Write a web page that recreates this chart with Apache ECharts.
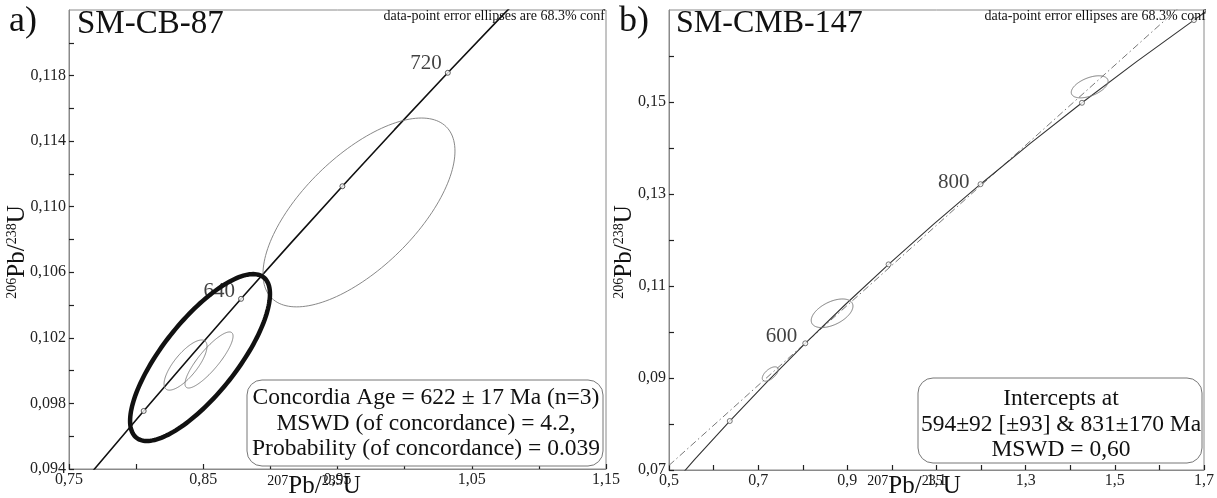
<!DOCTYPE html>
<html><head><meta charset="utf-8">
<script src="https://cdn.jsdelivr.net/npm/echarts@6/dist/echarts.min.js"></script>
<style>html,body{margin:0;padding:0;background:#fff}#c{width:1217px;height:498px}</style>
</head><body><div id="c"></div>
<script>
// ---------- Panel a) SM-CB-87 ----------
// concordia curve points: [age Ma, 207Pb/235U, 206Pb/238U]
const concordiaA = [[560,0.73589,0.09076],[580,0.77041,0.09414],[600,0.80563,0.09754],[620,0.84156,0.10096],[640,0.87817,0.10438],[660,0.91554,0.10781],[680,0.95365,0.11125],[700,0.99249,0.11470],[720,1.03215,0.11817],[740,1.07257,0.12164],[760,1.11381,0.12512]];
const markerAgesA = [600,640,680,720];
const labelAgesA = [640,720];
// error ellipses: [x, halfX, y, halfY, rho]
const ellipsesA = [[0.966,0.0715,0.10965,0.00576,0.65],[0.8368,0.0160,0.10034,0.00153,0.75],[0.8543,0.0179,0.10065,0.00171,0.85]];
const ageEllipseA = [[0.8476,0.0521,0.1008,0.00509,0.76]];

// ---------- Panel b) SM-CMB-147 ----------
const concordiaB = [[400,0.48281,0.06402],[450,0.55766,0.07230],[500,0.63627,0.08065],[550,0.71887,0.08906],[600,0.80563,0.09754],[650,0.89677,0.10609],[700,0.99249,0.11470],[750,1.09307,0.12338],[800,1.19873,0.13213],[850,1.30971,0.14094],[900,1.42629,0.14983],[950,1.54877,0.15878],[1000,1.67741,0.16781],[1050,1.81255,0.17690]];
const markerAgesB = [500,600,700,800,900,1000];
const labelAgesB = [600,800];
const discordiaB = [[0.5,0.0710],[1.7,0.1754]];
const ellipsesB = [[0.7271,0.0179,0.09087,0.00156,0.6],[0.8658,0.0468,0.10407,0.00311,0.5],[1.4436,0.0413,0.1533,0.0024,0.5]];

const FONT = '"Liberation Serif","Times New Roman",serif';

function comma(v, d){ return v.toFixed(d).replace('.', ','); }

function axisX(idx, min, max, step, dec){
  return {type:'value', gridIndex:idx, min:min, max:max, interval:step,
    axisLine:{show:true, lineStyle:{color:'#8a8a8a', width:1}},
    axisTick:{show:true, inside:true, length:5, lineStyle:{color:'#222', width:1.2}},
    splitLine:{show:false},
    axisLabel:{margin:3, color:'#222', fontFamily:FONT, fontSize:16, showMaxLabel:true,
      formatter:function(v){ const k=Math.round((v-min)/step); return k%2===0 ? comma(v,dec) : ''; }}};
}
function axisY(idx, min, max, step, dec){
  return {type:'value', gridIndex:idx, min:min, max:max, interval:step,
    axisLine:{show:true, lineStyle:{color:'#8a8a8a', width:1}},
    axisTick:{show:true, inside:true, length:5, lineStyle:{color:'#222', width:1.2}},
    splitLine:{show:false},
    axisLabel:{margin:3, color:'#222', fontFamily:FONT, fontSize:16, showMaxLabel:false,
      formatter:function(v){ const k=Math.round((v-min)/step); return k%2===0 ? comma(v,dec) : ''; }}};
}

function ellipseSeries(i, data, color, width, z){
  return {type:'custom', xAxisIndex:i, yAxisIndex:i, data:data, silent:true, z:z, clip:true,
    renderItem:function(params, api){
      const cx=api.value(0), hx=api.value(1), cy=api.value(2), hy=api.value(3), r=api.value(4);
      const s=Math.sqrt(1-r*r), pts=[];
      for(let k=0;k<=160;k++){ const t=k/160*2*Math.PI;
        pts.push(api.coord([cx+hx*Math.cos(t), cy+hy*(r*Math.cos(t)+s*Math.sin(t))])); }
      return {type:'polygon', shape:{points:pts}, style:{fill:'none', stroke:color, lineWidth:width}};
    }};
}
function markerData(curve, ages, labels, lab){
  return curve.filter(d=>ages.indexOf(d[0])>=0).map(d=>{
    const o={value:[d[1],d[2]]};
    if(labels.indexOf(d[0])>=0){ o.label=Object.assign({show:true, formatter:String(d[0])}, lab[d[0]]); }
    return o;
  });
}
const labStyle = {position:'left', color:'#111', fontFamily:FONT, fontSize:21};

const series = [
  {type:'line', xAxisIndex:0, yAxisIndex:0, data:concordiaA.map(d=>[d[1],d[2]]), showSymbol:false, silent:true,
    lineStyle:{color:'#111', width:1.6}, z:2},
  ellipseSeries(0, ellipsesA, '#7a7a7a', 0.9, 3),
  ellipseSeries(0, ageEllipseA, '#111', 4.5, 4),
  {type:'scatter', xAxisIndex:0, yAxisIndex:0, symbol:'circle', symbolSize:5, silent:true, z:5,
    itemStyle:{color:'#fff', borderColor:'#333', borderWidth:1},
    label:labStyle,
    data:markerData(concordiaA, markerAgesA, labelAgesA, {640:{distance:3, offset:[0,-7]}, 720:{distance:3, offset:[0,-9]}})},

  {type:'line', xAxisIndex:1, yAxisIndex:1, data:discordiaB, showSymbol:false, silent:true,
    lineStyle:{color:'#777', width:1, type:[7,3,1.5,3]}, z:2},
  {type:'line', xAxisIndex:1, yAxisIndex:1, data:concordiaB.map(d=>[d[1],d[2]]), showSymbol:false, silent:true,
    lineStyle:{color:'#333', width:1.1}, z:2},
  ellipseSeries(1, ellipsesB, '#7a7a7a', 1, 3),
  {type:'scatter', xAxisIndex:1, yAxisIndex:1, symbol:'circle', symbolSize:5, silent:true, z:5,
    itemStyle:{color:'#fff', borderColor:'#555', borderWidth:1},
    label:labStyle,
    data:markerData(concordiaB, markerAgesB, labelAgesB, {600:{distance:5, offset:[0,-7]}, 800:{distance:8, offset:[0,-2]}})}
];

function txt(x,y,text,size,align,extra){
  return Object.assign({type:'text', x:x, y:y, z:100, silent:true,
    style:{text:text, fill:'#111', fontFamily:FONT, fontSize:size, align:align||'left', verticalAlign:'middle'}}, extra||{});
}
const rich = {m:{fontFamily:FONT, fontSize:25, fill:'#111', lineHeight:28, verticalAlign:'bottom'},
              s:{fontFamily:FONT, fontSize:14, fill:'#111', lineHeight:20, verticalAlign:'top', padding:[3,0,0,0]}};
function axName(x,y,text,rot){
  return {type:'text', x:x, y:y, rotation:rot, z:100, silent:true,
    style:{text:text, rich:rich, align:'center', verticalAlign:'middle'}};
}

const NOTE = 'data-point error ellipses are 68.3% conf';
const graphic = [
  txt(9,22,'a)',36), txt(77,24,'SM-CB-87',33), txt(605,16,NOTE,14,'right'),
  txt(619,22,'b)',36), txt(676,24,'SM-CMB-147',32), txt(1206,16,NOTE,14,'right'),
  {type:'rect', z:90, silent:true, shape:{x:247,y:380,width:356,height:86,r:15}, style:{fill:'#fff', stroke:'#777', lineWidth:1}},
  txt(426,398,'Concordia Age = 622 ± 17 Ma (n=3)',23.5,'center'),
  txt(426,423.5,'MSWD (of concordance) = 4.2,',23.5,'center'),
  txt(426,449,'Probability (of concordance) = 0.039',23.5,'center'),
  {type:'rect', z:90, silent:true, shape:{x:918,y:378,width:284,height:85,r:15}, style:{fill:'#fff', stroke:'#777', lineWidth:1}},
  txt(1061,399,'Intercepts at',23.5,'center'),
  txt(1061,425,'594±92 [±93] & 831±170 Ma',23.5,'center'),
  txt(1061,450,'MSWD = 0,60',23.5,'center'),
  axName(16,252,'{s|206}{m|Pb/}{s|238}{m|U}',Math.PI/2),
  axName(623,252,'{s|206}{m|Pb/}{s|238}{m|U}',Math.PI/2),
  axName(314,485,'{s|207}{m|Pb/}{s|235}{m|U}',0),
  axName(914,485,'{s|207}{m|Pb/}{s|235}{m|U}',0)
];

const chart = echarts.init(document.getElementById('c'), null, {renderer:'canvas'});
chart.setOption({
  animation:false, backgroundColor:'#fff',
  grid:[{left:69, top:10, width:537, height:459, show:true, borderColor:'#8a8a8a', borderWidth:1, backgroundColor:'transparent'},
        {left:669, top:10, width:538, height:460, show:true, borderColor:'#8a8a8a', borderWidth:1, backgroundColor:'transparent'}],
  xAxis:[axisX(0,0.75,1.15,0.05,2), axisX(1,0.5,1.7,0.1,1)],
  yAxis:[axisY(0,0.094,0.122,0.002,3), axisY(1,0.07,0.17,0.01,2)],
  series:series,
  graphic:graphic
});
</script></body></html>
